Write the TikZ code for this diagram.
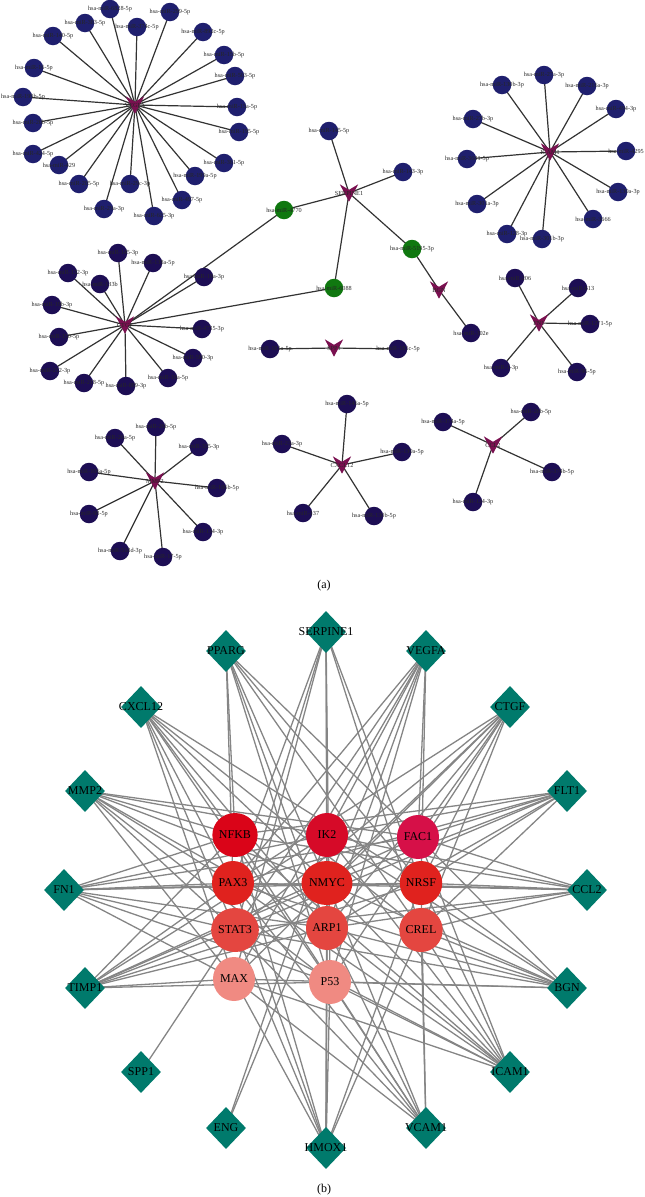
\documentclass[tikz,border=0pt]{standalone}
\usepackage{fontspec}
\setmainfont{Liberation Serif}
\usetikzlibrary{shapes.geometric,backgrounds}
\definecolor{navyA}{RGB}{31,31,110}
\definecolor{navyB}{RGB}{29,14,84}
\definecolor{hubc}{RGB}{122,16,80}
\definecolor{grn}{RGB}{16,120,16}
\definecolor{tealB}{RGB}{0,122,108}
\definecolor{cA}{RGB}{218,4,24}
\definecolor{cB}{RGB}{214,10,40}
\definecolor{cC}{RGB}{214,16,72}
\definecolor{cD}{RGB}{224,34,30}
\definecolor{cE}{RGB}{228,70,64}
\definecolor{cF}{RGB}{240,138,130}
\newcommand\mleaf[5]{\node[#1,label={[albl]center:#5}] (#2) at (#3,#4) {};}
\newcommand\mhub[4]{\node[hubn] (#1) at (#2,#3) {};
  \fill[hubc] (#1.north west) -- ([yshift=-5.5pt]#1.north) -- (#1.north east) -- (#1.south) -- cycle;
  \node[albl] at (#1) {#4};}
\begin{document}
\begin{tikzpicture}[x=1pt,y=-1pt,
  leafA/.style={circle, fill=navyA, inner sep=0, minimum size=18.5},
  leafB/.style={circle, fill=navyB, inner sep=0, minimum size=18.5},
  mirg/.style={circle, fill=grn, inner sep=0, minimum size=18.5},
  hubn/.style={rectangle, inner sep=0, minimum width=18, minimum height=17},
  albl/.style={font=\fontsize{6.2}{7}\selectfont, text=black!85, inner sep=0},
  aedge/.style={draw=black!80, line width=1.2},
  tf/.style={ellipse, inner sep=0, minimum width=42, minimum height=44, font=\fontsize{12}{14}\selectfont},
  tg/.style={diamond, fill=tealB, inner sep=0, minimum width=40, minimum height=42},
  blbl/.style={font=\fontsize{12}{14}\selectfont, inner sep=0},
  bedge/.style={draw=black!48, line width=1.3},
  captxt/.style={font=\fontsize{12}{14}\selectfont, inner sep=0}]
\useasboundingbox (0,0) rectangle (645,1197);

% ---------- panel (a) ----------
% top-left star
\mleaf{leafA}{a1}{110}{9}{hsa-miR-6828-5p}
\mleaf{leafA}{a2}{85}{23}{hsa-miR-383-5p}
\mleaf{leafA}{a3}{170}{12}{hsa-miR-299-5p}
\mleaf{leafA}{a4}{137}{27}{hsa-miR-374c-5p}
\mleaf{leafA}{a5}{203}{32}{hsa-miR-892c-5p}
\mleaf{leafA}{a6}{53}{36}{hsa-miR-140-5p}
\mleaf{leafA}{a7}{224}{55}{hsa-miR-15b-5p}
\mleaf{leafA}{a8}{34}{68}{hsa-miR-16-5p}
\mleaf{leafA}{a9}{235}{76}{hsa-miR-503-5p}
\mleaf{leafA}{a10}{23}{97}{hsa-miR-199b-5p}
\mleaf{leafA}{a11}{237}{107}{hsa-miR-15a-5p}
\mleaf{leafA}{a12}{33}{123}{hsa-miR-20b-5p}
\mleaf{leafA}{a13}{239}{132}{hsa-miR-195-5p}
\mleaf{leafA}{a14}{33}{154}{hsa-miR-424-5p}
\mleaf{leafA}{a15}{59}{165}{hsa-miR-429}
\mleaf{leafA}{a16}{224}{163}{hsa-miR-361-5p}
\mleaf{leafA}{a17}{79}{184}{hsa-miR-205-5p}
\mleaf{leafA}{a18}{130}{184}{hsa-miR-29c-3p}
\mleaf{leafA}{a19}{195}{176}{hsa-miR-199a-5p}
\mleaf{leafA}{a20}{182}{200}{hsa-miR-497-5p}
\mleaf{leafA}{a21}{104}{209}{hsa-miR-29a-3p}
\mleaf{leafA}{a22}{154}{216}{hsa-miR-625-3p}
% top-right star
\mleaf{leafA}{b1}{544}{75}{hsa-miR-27a-3p}
\mleaf{leafA}{b2}{502}{85}{hsa-miR-130b-3p}
\mleaf{leafA}{b3}{587}{86}{hsa-miR-216a-3p}
\mleaf{leafA}{b4}{616}{109}{hsa-miR-494-3p}
\mleaf{leafA}{b5}{473}{119}{hsa-miR-27b-3p}
\mleaf{leafA}{b6}{626}{151}{hsa-miR-4295}
\mleaf{leafA}{b7}{467}{159}{hsa-miR-3681-5p}
\mleaf{leafA}{b8}{618}{192}{hsa-miR-130a-3p}
\mleaf{leafA}{b9}{477}{204}{hsa-miR-301a-3p}
\mleaf{leafA}{b10}{593}{219}{hsa-miR-3666}
\mleaf{leafA}{b11}{507}{234}{hsa-miR-128-3p}
\mleaf{leafA}{b12}{542}{239}{hsa-miR-301b-3p}
% middle cluster
\mleaf{leafA}{c1}{329}{131}{hsa-miR-145-5p}
\mleaf{leafA}{c2}{403}{172}{hsa-miR-143-3p}
\mleaf{mirg}{g1}{284}{210}{hsa-miR-4770}
\mleaf{mirg}{g2}{334}{288}{hsa-miR-6088}
\mleaf{mirg}{g3}{412}{249}{hsa-miR-5195-3p}
\mleaf{leafB}{e1}{471}{333}{hsa-miR-302e}
% left-middle star
\mleaf{leafB}{f1}{118}{253}{hsa-miR-145-3p}
\mleaf{leafB}{f2}{153}{263}{hsa-miR-138a-5p}
\mleaf{leafB}{f3}{68}{273}{hsa-miR-132-3p}
\mleaf{leafB}{f4}{100}{284}{hsa-miR-133b}
\mleaf{leafB}{f5}{204}{277}{hsa-miR-19a-3p}
\mleaf{leafB}{f6}{52}{305}{hsa-miR-19b-3p}
\mleaf{leafB}{f7}{59}{337}{hsa-miR-150-5p}
\mleaf{leafB}{f8}{202}{329}{hsa-miR-4735-3p}
\mleaf{leafB}{f9}{193}{358}{hsa-miR-590-3p}
\mleaf{leafB}{f10}{50}{371}{hsa-miR-212-3p}
\mleaf{leafB}{f11}{84}{383}{hsa-miR-218-5p}
\mleaf{leafB}{f12}{126}{386}{hsa-miR-889-3p}
\mleaf{leafB}{f13}{168}{378}{hsa-miR-18a-5p}
% middle pair
\mleaf{leafB}{m1}{270}{349}{hsa-miR-181a-5p}
\mleaf{leafB}{m2}{398}{349}{hsa-miR-181c-5p}
% right-middle star
\mleaf{leafB}{r1}{515}{278}{hsa-miR-206}
\mleaf{leafB}{r2}{578}{288}{hsa-miR-613}
\mleaf{leafB}{r3}{590}{324}{hsa-miR-1271-5p}
\mleaf{leafB}{r4}{501}{368}{hsa-miR-1-3p}
\mleaf{leafB}{r5}{577}{372}{hsa-miR-96-5p}
% bottom-left star
\mleaf{leafB}{k1}{156}{427}{hsa-miR-26b-5p}
\mleaf{leafB}{k2}{115}{438}{hsa-miR-26a-5p}
\mleaf{leafB}{k3}{199}{447}{hsa-miR-335-3p}
\mleaf{leafB}{k4}{89}{472}{hsa-miR-106a-5p}
\mleaf{leafB}{k5}{217}{488}{hsa-miR-106b-5p}
\mleaf{leafB}{k6}{89}{514}{hsa-miR-98-5p}
\mleaf{leafB}{k7}{203}{532}{hsa-miR-134-3p}
\mleaf{leafB}{k8}{120}{551}{hsa-miR-518d-3p}
\mleaf{leafB}{k9}{163}{557}{hsa-miR-17-5p}
% bottom-middle star
\mleaf{leafB}{n1}{347}{404}{hsa-miR-146a-5p}
\mleaf{leafB}{n2}{282}{444}{hsa-miR-23a-3p}
\mleaf{leafB}{n3}{402}{452}{hsa-miR-130a-5p}
\mleaf{leafB}{n4}{303}{513}{hsa-miR-137}
\mleaf{leafB}{n5}{374}{516}{hsa-miR-130b-5p}
% bottom-right star
\mleaf{leafB}{p1}{443}{422}{hsa-miR-374a-5p}
\mleaf{leafB}{p2}{531}{412}{hsa-miR-26b-5p}
\mleaf{leafB}{p3}{552}{472}{hsa-miR-374b-5p}
\mleaf{leafB}{p4}{473}{502}{hsa-miR-124-3p}
% hubs
\mhub{hA}{135}{105}{VEGFA}
\mhub{hB}{550}{152}{ICAM1}
\mhub{hC}{349}{193}{SERPINE1}
\mhub{hD}{439}{290}{BGN}
\mhub{hE}{125}{325}{CTGF}
\mhub{hF}{334}{348}{SPP1}
\mhub{hG}{539}{323}{FN1}
\mhub{hH}{155}{481}{MMP2}
\mhub{hI}{342}{465}{CXCL12}
\mhub{hJ}{493}{445}{CCL2}

\node[captxt] (capa) at (324,586) {(a)};

% ---------- panel (b) ----------
\node[tg, label={[blbl]center:SERPINE1}] (SERPINE1) at (326,632) {};
\node[tg, label={[blbl]center:PPARG}] (PPARG) at (226,651) {};
\node[tg, label={[blbl]center:VEGFA}] (VEGFA) at (426,651) {};
\node[tg, label={[blbl]center:CXCL12}] (CXCL12) at (141,707) {};
\node[tg, label={[blbl]center:CTGF}] (CTGF) at (510,707) {};
\node[tg, label={[blbl]center:MMP2}] (MMP2) at (85,791) {};
\node[tg, label={[blbl]center:FLT1}] (FLT1) at (567,791) {};
\node[tg, label={[blbl]center:FN1}] (FN1) at (64,890) {};
\node[tg, label={[blbl]center:CCL2}] (CCL2) at (587,890) {};
\node[tg, label={[blbl]center:TIMP1}] (TIMP1) at (85,988) {};
\node[tg, label={[blbl]center:BGN}] (BGN) at (567,988) {};
\node[tg, label={[blbl]center:SPP1}] (SPP1) at (141,1072) {};
\node[tg, label={[blbl]center:ICAM1}] (ICAM1) at (510,1072) {};
\node[tg, label={[blbl]center:ENG}] (ENG) at (226,1128) {};
\node[tg, label={[blbl]center:VCAM1}] (VCAM1) at (426,1128) {};
\node[tg, label={[blbl]center:HMOX1}] (HMOX1) at (326,1148) {};

\node[tf, fill=cA] (NFKB) at (235,835) {NFKB};
\node[tf, fill=cB] (IK2) at (327,835) {IK2};
\node[tf, fill=cC] (FAC1) at (418,837) {FAC1};
\node[tf, fill=cD] (PAX3) at (233,883) {PAX3};
\node[tf, fill=cD] (NMYC) at (327,883) {NMYC};
\node[tf, fill=cD] (NRSF) at (421,883) {NRSF};
\node[tf, fill=cE] (STAT3) at (235,930) {STAT3};
\node[tf, fill=cE] (ARP1) at (327,928) {ARP1};
\node[tf, fill=cE] (CREL) at (421,930) {CREL};
\node[tf, fill=cF] (MAX) at (234,979) {MAX};
\node[tf, fill=cF] (P53) at (330,982) {P53};

\node[captxt] (capb) at (324,1190) {(b)};

\begin{pgfonlayer}{background}
\foreach \i in {1,...,22} \draw[aedge] (hA.center) -- (a\i.center);
\foreach \i in {1,...,12} \draw[aedge] (hB.center) -- (b\i.center);
\foreach \t in {c1,c2,g1,g2,g3} \draw[aedge] (hC.center) -- (\t.center);
\draw[aedge] (g3.center) -- (hD.center);
\draw[aedge] (hD.center) -- (e1.center);
\foreach \i in {1,...,13} \draw[aedge] (hE.center) -- (f\i.center);
\draw[aedge] (hE.center) -- (g1.center);
\draw[aedge] (hE.center) -- (g2.center);
\draw[aedge] (m1.center) -- (hF.center);
\draw[aedge] (hF.center) -- (m2.center);
\foreach \i in {1,...,5} \draw[aedge] (hG.center) -- (r\i.center);
\foreach \i in {1,...,9} \draw[aedge] (hH.center) -- (k\i.center);
\foreach \i in {1,...,5} \draw[aedge] (hI.center) -- (n\i.center);
\foreach \i in {1,...,4} \draw[aedge] (hJ.center) -- (p\i.center);

\foreach \d/\ts in {
SERPINE1/{IK2,PAX3,STAT3,MAX,NRSF,CREL,P53,ARP1},
PPARG/{NFKB,PAX3,NMYC,ARP1,P53,NRSF,CREL,FAC1},
VEGFA/{FAC1,NRSF,NMYC,ARP1,PAX3,STAT3,MAX,P53,IK2},
CXCL12/{NFKB,PAX3,STAT3,NMYC,ARP1,P53,NRSF,CREL,MAX},
CTGF/{FAC1,NRSF,CREL,NMYC,ARP1,STAT3,PAX3,MAX,P53},
MMP2/{NFKB,IK2,FAC1,PAX3,NMYC,STAT3,MAX,P53,ARP1},
FLT1/{FAC1,IK2,NFKB,NRSF,NMYC,CREL,ARP1,STAT3,PAX3},
FN1/{PAX3,NMYC,NRSF,NFKB,STAT3,ARP1,IK2,MAX,P53,FAC1},
CCL2/{NRSF,NMYC,PAX3,FAC1,CREL,ARP1,IK2,STAT3,NFKB},
TIMP1/{STAT3,PAX3,NFKB,NMYC,ARP1,P53,MAX,IK2,NRSF,FAC1},
BGN/{CREL,NRSF,P53,ARP1,NMYC,FAC1,STAT3,MAX,IK2,PAX3},
SPP1/{STAT3},
ENG/{IK2,NMYC},
HMOX1/{P53,ARP1,NMYC,IK2,MAX,STAT3,PAX3,NFKB,CREL,NRSF},
VCAM1/{CREL,NRSF,P53,ARP1,STAT3,PAX3,NFKB,MAX,NMYC},
ICAM1/{P53,MAX,STAT3,ARP1,CREL,NRSF,NMYC,PAX3,NFKB,FAC1,IK2}}
{\foreach \t in \ts {\draw[bedge] (\d.center) -- (\t.center);}}
\end{pgfonlayer}
\end{tikzpicture}
\end{document}
